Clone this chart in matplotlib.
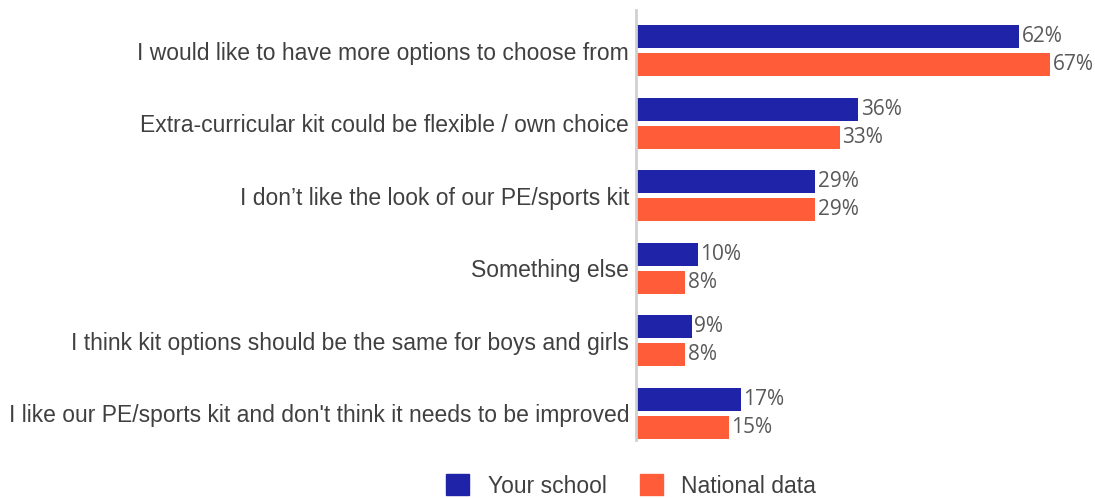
import matplotlib.pyplot as plt
import numpy as np
from matplotlib.patches import Patch

categories = [
    "I would like to have more options to choose from",
    "Extra-curricular kit could be flexible / own choice",
    "I don\u2019t like the look of our PE/sports kit",
    "Something else",
    "I think kit options should be the same for boys and girls",
    "I like our PE/sports kit and don't think it needs to be improved",
]
your_school = [62, 36, 29, 10, 9, 17]
national = [67, 33, 29, 8, 8, 15]

blue = "#1f23a8"
orange = "#ff5c39"

fig = plt.figure(figsize=(10.95, 4.98), dpi=100)
ax = fig.add_axes([636 / 1095, 58 / 498, 1 - 636 / 1095, 430 / 498])

y = np.arange(len(categories))
h = 0.317
off = 0.193
ax.barh(y - off, your_school, height=h, color=blue)
ax.barh(y + off, national, height=h, color=orange)

for yi, v in zip(y, your_school):
    ax.text(v + 0.4, yi - off, f"{v}%", va="center", ha="left",
            fontsize=15, color="#595959", family="Open Sans")
for yi, v in zip(y, national):
    ax.text(v + 0.4, yi + off, f"{v}%", va="center", ha="left",
            fontsize=15, color="#595959", family="Open Sans")

ax.set_xlim(0, 459 / 6.18)
ax.set_ylim(5.372, -0.559)
ax.set_yticks(y)
ax.set_yticklabels(categories, fontsize=16.5, color="#404040", family="Liberation Sans")
ax.tick_params(axis="y", length=0, pad=5)
ax.set_xticks([])
for s in ["top", "right", "bottom"]:
    ax.spines[s].set_visible(False)
ax.spines["left"].set_color("#d0d0d0")
ax.spines["left"].set_linewidth(2)

handles = [Patch(color=blue, label="Your school"), Patch(color=orange, label="National data")]
fig.legend(handles=handles, loc="center", bbox_to_anchor=(631 / 1095, 1 - 486 / 498),
           ncol=2, frameon=False, handlelength=1.0, handleheight=1.0,
           columnspacing=1.45, handletextpad=0.8, borderpad=0,
           prop={"family": "Liberation Sans", "size": 16.5}, labelcolor="#404040")

fig.savefig("out.png", dpi=100)
